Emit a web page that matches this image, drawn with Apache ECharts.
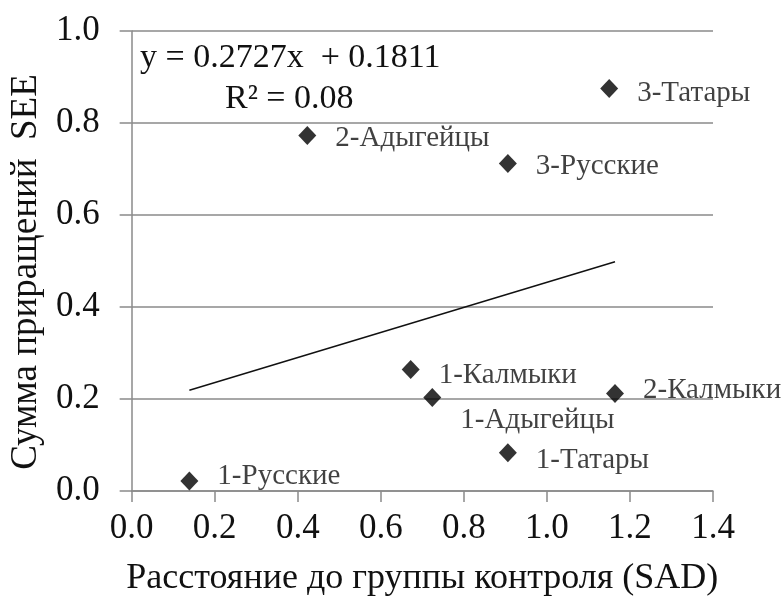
<!DOCTYPE html>
<html>
<head>
<meta charset="utf-8">
<script src="https://cdn.jsdelivr.net/npm/echarts@6/dist/echarts.min.js"></script>
<style>
  html, body { margin: 0; padding: 0; background: #fff; }
  #chart { width: 783px; height: 602px; }
</style>
</head>
<body>
<div id="chart"></div>
<script>
// Group names, distance to the control group (SAD) and sum of SEE increments
const groups = ['1-Русские', '1-Калмыки', '1-Адыгейцы', '2-Калмыки', '1-Татары', '3-Татары', '3-Русские', '2-Адыгейцы'];
const sadValues = [0.139, 0.672, 0.724, 1.164, 0.906, 1.150, 0.906, 0.423];
const seeValues = [0.022, 0.264, 0.203, 0.212, 0.083, 0.875, 0.712, 0.773];

// Linear trend fitted to the points
const slope = 0.2727;
const intercept = 0.1811;
const rSquared = 0.08;

const xTicks = { min: 0, max: 1.4, interval: 0.2 };
const yTicks = { min: 0, max: 1.0, interval: 0.2 };

// Label nudges per point: [dx, dy] relative to the default right-side spot
const labelShift = [[0, -4], [0, 6], [0, 23], [0, -3], [0, 8], [0, 5], [0, 3], [0, 3]];

const FONT = '"Liberation Serif", "Times New Roman", serif';
const INK = '#111';
const GRAY = '#8a8a8a';

const points = groups.map((g, i) => ({
  name: g,
  value: [sadValues[i], seeValues[i]],
  label: { offset: labelShift[i] }
}));

const xMinData = Math.min(...sadValues);
const xMaxData = Math.max(...sadValues);
const trend = [
  [xMinData, slope * xMinData + intercept],
  [xMaxData, slope * xMaxData + intercept]
];

const chart = echarts.init(document.getElementById('chart'), null, { renderer: 'canvas' });
chart.setOption({
  backgroundColor: '#fff',
  animation: false,
  grid: { left: 128, right: 70, top: 31, bottom: 106 },
  xAxis: {
    type: 'value',
    min: xTicks.min, max: xTicks.max, interval: xTicks.interval,
    name: 'Расстояние до группы контроля (SAD)',
    nameLocation: 'middle',
    nameGap: 70,
    nameTextStyle: { fontFamily: FONT, fontSize: 36, color: INK },
    axisLine: { show: true, lineStyle: { color: GRAY, width: 1.5 } },
    axisTick: { show: true, length: 11, lineStyle: { color: GRAY, width: 1.5 } },
    axisLabel: {
      fontFamily: FONT, fontSize: 35, color: INK, margin: 20,
      formatter: v => v.toFixed(1)
    },
    splitLine: { show: false }
  },
  yAxis: {
    type: 'value',
    min: yTicks.min, max: yTicks.max, interval: yTicks.interval,
    name: 'Сумма приращений  SEE',
    nameLocation: 'middle',
    nameGap: 86,
    nameTextStyle: { fontFamily: FONT, fontSize: 37, color: INK, padding: [0, 22, 0, 0] },
    axisLine: { show: true, lineStyle: { color: GRAY, width: 1.5 } },
    axisTick: { show: true, length: 12, lineStyle: { color: GRAY, width: 1.5 } },
    axisLabel: {
      fontFamily: FONT, fontSize: 35, color: INK, margin: 32,
      formatter: v => v.toFixed(1)
    },
    splitLine: { show: true, lineStyle: { color: GRAY, width: 1.5 } }
  },
  series: [
    {
      type: 'line',
      data: trend,
      symbol: 'none',
      lineStyle: { color: INK, width: 1.5 },
      silent: true,
      z: 2
    },
    {
      type: 'scatter',
      data: points,
      symbol: 'diamond',
      symbolSize: [18, 19],
      itemStyle: { color: '#000' },
      label: {
        show: true,
        position: 'right',
        distance: 19,
        formatter: p => p.name,
        fontFamily: FONT,
        fontSize: 29,
        color: INK
      },
      z: 3
    }
  ],
  graphic: [
    {
      type: 'text',
      left: 140, top: 41,
      style: {
        text: 'y = 0.2727x  + 0.1811',
        font: '34px ' + FONT,
        fill: INK
      }
    },
    {
      type: 'text',
      left: 225, top: 82,
      style: {
        text: 'R² = ' + rSquared.toFixed(2),
        font: '34px ' + FONT,
        fill: INK
      }
    }
  ]
});
</script>
</body>
</html>
